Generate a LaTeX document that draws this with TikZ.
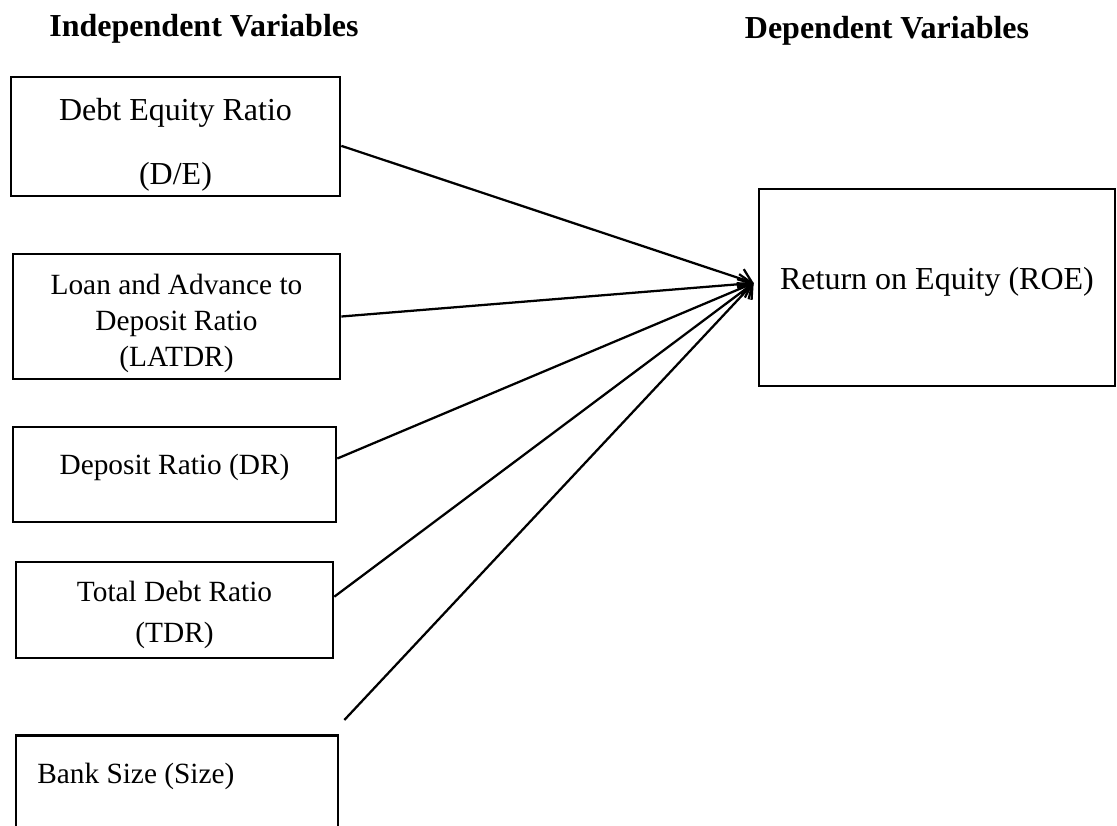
\documentclass[tikz,border=0pt]{standalone}
\usepackage{fontspec}
\setmainfont{Liberation Serif}
\usetikzlibrary{arrows.meta}

\begin{document}
\begin{tikzpicture}[x=0.75pt, y=-0.75pt]
    \tikzstyle{varbox}=[draw, line width=2pt, inner sep=0pt]
    \tikzstyle{vartext}=[inner sep=0pt, align=center, font=\fontsize{22}{27}\selectfont]
    \tikzstyle{heading}=[inner sep=0pt, font=\fontsize{24}{28}\selectfont\bfseries]
    \tikzstyle{link}=[line width=1.7pt, -{Straight Barb[length=9pt, width=15pt]}]

    \useasboundingbox (0,0) rectangle (1117,825);

    \node[heading] (indep) at (204, 29) {Independent Variables};
    \node[heading] (dep) at (887, 31) {Dependent Variables};

    \node[varbox, minimum width=246.75pt, minimum height=89.25pt] (de) at (175.5, 136.5) {};
    \node[vartext, font=\fontsize{24}{48}\selectfont] (detext) at ([yshift=-6pt]de.center) {Debt Equity Ratio\\(D/E)};

    \node[varbox, minimum width=245.25pt, minimum height=93.75pt] (latdr) at (176.5, 316.5) {};
    \node[vartext] (latdrtext) at ([yshift=-5pt]latdr.center) {Loan and Advance to\\Deposit Ratio\\(LATDR)};

    \node[varbox, minimum width=242.25pt, minimum height=71.25pt] (dr) at (174.5, 474.5) {};
    \node[vartext] (drtext) at ([yshift=-31pt]dr.north) {Deposit Ratio (DR)};

    \node[varbox, minimum width=237.75pt, minimum height=72pt] (tdr) at (174.5, 610) {};
    \node[vartext, font=\fontsize{22}{30.75}\selectfont] (tdrtext) at ([yshift=-4pt]tdr.center) {Total Debt Ratio\\(TDR)};

    \node[varbox, minimum width=241.5pt, minimum height=112.5pt, anchor=north] (size) at (177, 734) {};
    \node[vartext, anchor=west] (sizetext) at (37, 776) {Bank Size (Size)};

    \node[varbox, minimum width=267pt, minimum height=147.75pt] (roe) at (937, 287.5) {};
    \node[vartext, font=\fontsize{24}{28}\selectfont] (roetext) at ([yshift=4pt]roe.center) {Return on Equity (ROE)};

    \coordinate (hub) at ([shift={(-4,-4.5)}]roe.west);

    \draw[link] ([yshift=-7pt]de.east) -- (hub);
    \draw[link] (latdr.east) -- (hub);
    \draw[link] ([yshift=12pt]dr.east) -- (hub);
    \draw[link] ([yshift=10pt]tdr.east) -- (hub);
    \draw[link] ([shift={(5,-14)}]size.north east) -- (hub);

\end{tikzpicture}
\end{document}
